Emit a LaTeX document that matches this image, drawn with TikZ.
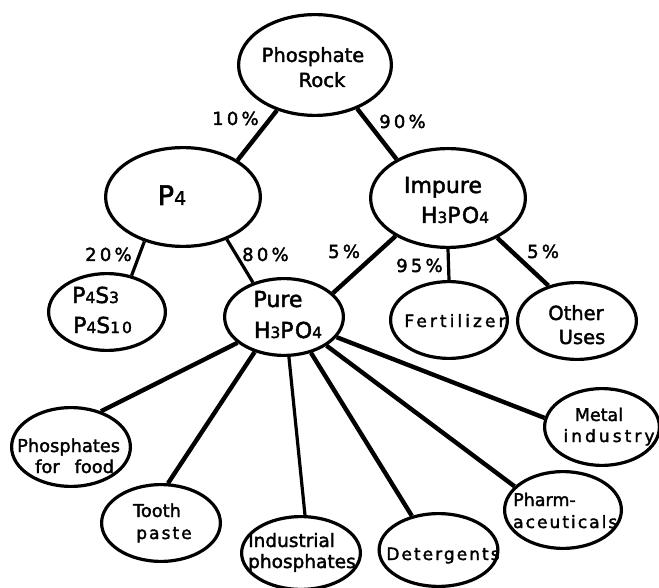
\documentclass[tikz,border=0pt]{standalone}
\usepackage{fontspec}
\setmainfont{DejaVu Sans}[FakeBold=2]
\newfontfamily\lsA[LetterSpace=18,FakeBold=2]{DejaVu Sans}
\newfontfamily\lsB[LetterSpace=12,FakeBold=2]{DejaVu Sans}
\newfontfamily\lsC[LetterSpace=6,FakeBold=2]{DejaVu Sans}
\newfontfamily\lsD[LetterSpace=20,FakeBold=2]{DejaVu Sans}
\usetikzlibrary{shapes.geometric}
\newcommand{\smd}[1]{\scalebox{0.7}{#1}}
\newcommand{\fsz}[1]{\fontsize{#1}{#1}\selectfont}
\begin{document}
\begin{tikzpicture}[x=1pt,y=-1pt,
  oval/.style={draw, ellipse, line width=3.2pt, inner sep=0pt},
  link/.style={line width=4.4pt},
  thinlink/.style={line width=3.2pt},
  txt/.style={inner sep=0pt, anchor=base},
  txtl/.style={inner sep=0pt, anchor=base west},
  pct/.style={inner sep=0pt, anchor=base west, font=\lsA\fsz{18}}]
\useasboundingbox (0,0) rectangle (659,588);

% ellipses
\node[oval, minimum width=152.8pt, minimum height=100.8pt] (rock) at (315,65) {};
\node[oval, minimum width=154.8pt, minimum height=98.8pt] (p4) at (183,197) {};
\node[oval, minimum width=154.8pt, minimum height=98.8pt] (impure) at (448,198) {};
\node[oval, minimum width=116.8pt, minimum height=76.8pt] (p4s) at (107,312) {};
\node[oval, minimum width=118.8pt, minimum height=76.8pt] (pure) at (284,317) {};
\node[oval, minimum width=116.8pt, minimum height=76.8pt] (fert) at (449,320) {};
\node[oval, minimum width=118.8pt, minimum height=76.8pt] (other) at (577,321) {};
\node[oval, minimum width=114.8pt, minimum height=76.8pt] (metal) at (602,427) {};
\node[oval, minimum width=116.8pt, minimum height=76.8pt] (pharm) at (563,510) {};
\node[oval, minimum width=118.8pt, minimum height=72.8pt] (det) at (438.5,550) {};
\node[oval, minimum width=118.8pt, minimum height=72.8pt] (ind) at (301,553) {};
\node[oval, minimum width=118.8pt, minimum height=76.8pt] (tooth) at (161,523) {};
\node[oval, minimum width=118.8pt, minimum height=78.8pt] (food) at (71,447) {};

% connectors
\draw[link] (rock.230) -- (p4.34);
\draw[link] (rock.314) -- (impure.143);
\draw[thinlink] (p4.229) -- (p4s.56);
\draw[thinlink] (p4.316) -- (pure.132);
\draw[link] (impure.216) -- (pure.26);
\draw[thinlink] (impure.270) -- (fert.90);
\draw[link] (impure.321) -- (other.129);
\draw[link] (pure.209) -- (food.50);
\draw[link] (pure.230) -- (tooth.80);
\draw[thinlink] (pure.277) -- (ind.84);
\draw[link] (pure.307) -- (det.128);
\draw[link] (pure.326) -- (pharm.154);
\draw[link] (pure.339) -- (metal.171);

% texts
\node[txt, font=\fsz{19.5}] (rock1) at (313,62) {Phosphate};
\node[txt, font=\fsz{19.5}] (rock2) at (322,87) {Rock};
\node[txt, font=\fsz{27}] (p4t) at (172,205) {P\smd{4}};
\node[txt, font=\fsz{22}] (imp1) at (443,193) {Impure};
\node[txt, font=\lsC\fsz{22}] (imp2) at (455,223) {H\smd{3}PO\smd{4}};
\node[txt, font=\fsz{22}] (pure1) at (278,307) {Pure};
\node[txt, font=\lsC\fsz{22}] (pure2) at (288,338) {H\smd{3}PO\smd{4}};
\node[txtl, font=\lsD\fsz{22}] (p4s1) at (72,303) {P\smd{4}S\smd{3}};
\node[txtl, font=\lsD\fsz{22}] (p4s2) at (73,333) {P\smd{4}S\smd{1\hspace{3pt}0}};
\node[txt, font=\lsA\fsz{17}] (fertt) at (455,327) {Fertilizer};
\node[txt, font=\fsz{19.5}] (oth1) at (576,320) {Other};
\node[txt, font=\fsz{19.5}] (oth2) at (582,344) {Uses};
\node[txt, font=\fsz{17.5}] (met1) at (599,421) {Metal};
\node[txt, font=\lsA\fsz{17}] (met2) at (609,442) {industry};
\node[txtl, font=\fsz{17.5}] (ph1) at (513,506) {Pharm-};
\node[txtl, font=\lsB\fsz{17}] (ph2) at (513,528) {aceuticals};
\node[txt, font=\lsB\fsz{17}] (dett) at (443,560) {Detergents};
\node[txtl, font=\fsz{18.5}] (ind1) at (248,547) {Industrial};
\node[txtl, font=\fsz{18.5}] (ind2) at (248,568) {phosphates};
\node[txt, font=\fsz{17.8}] (too1) at (157,517) {Tooth};
\node[txt, font=\lsB\fsz{17}] (too2) at (164,539) {paste};
\node[txtl, font=\fsz{17.8}] (fo1) at (17,452) {Phosphates};
\node[txtl, font=\fsz{17.8}] (fo2) at (35,473) {for\hspace{15pt}food};

% percentages
\node[pct] (l10) at (212,125) {10\%};
\node[pct] (l90) at (379,128) {90\%};
\node[pct] (l20) at (85,261) {20\%};
\node[pct] (l80) at (242,261) {80\%};
\node[pct] (l5a) at (328,258) {5\%};
\node[pct] (l95) at (396,272) {95\%};
\node[pct] (l5b) at (527,258) {5\%};
\end{tikzpicture}
\end{document}
